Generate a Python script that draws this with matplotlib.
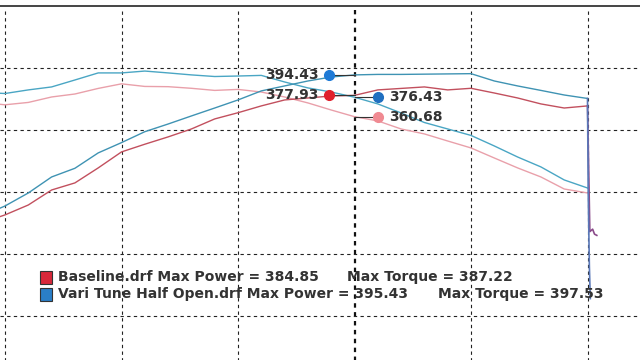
import matplotlib
matplotlib.use("Agg")
import matplotlib.pyplot as plt
from matplotlib.patches import Rectangle

# rpm grid shared by the four curves (one leading point off the left edge)
rpm = [2478, 2500, 2600, 2700, 2800, 2900, 3000, 3100, 3200, 3300, 3400, 3500, 3600, 3700,
       3800, 3900, 4000, 4100, 4200, 4300, 4400, 4500, 4600, 4700, 4800, 4900, 5000]

vt_tq = [379.6, 379.4, 382.3, 384.7, 390.3, 396.0, 396.0, 397.5, 396.0, 394.4, 393.1, 393.5, 394.0, 388.7,
         383.9, 380.6, 376.4, 371.0, 363.7, 356.0, 350.8, 345.6, 337.1, 328.2, 320.2, 309.7, 303.2]
vt_hp = [286.9, 288.7, 299.2, 312.1, 319.1, 331.5, 339.8, 348.6, 354.8, 361.3, 367.7, 374.2, 381.5, 385.5,
         389.5, 392.7, 394.4, 394.8, 394.8, 395.0, 395.2, 395.4, 389.5, 385.5, 381.9, 378.2, 375.4]
bl_tq = [370.7, 370.3, 372.2, 376.6, 379.0, 383.5, 387.2, 385.1, 384.9, 383.6, 381.9, 382.7, 380.6, 376.6,
         371.8, 366.1, 360.7, 357.3, 350.8, 346.8, 341.1, 335.5, 327.4, 319.4, 312.1, 302.4, 299.2]
bl_hp = [280.1, 281.5, 289.5, 301.6, 307.3, 319.4, 332.3, 338.5, 344.4, 350.8, 358.9, 363.9, 369.4, 374.2,
         375.8, 377.4, 377.9, 382.3, 383.5, 384.7, 382.3, 383.6, 379.8, 375.8, 371.0, 367.7, 369.4]

# end of run: the traces fall away at 5000 rpm
vt_tail_rpm = [5003, 5008, 5012]
vt_tail = [300, 240, 214]
bl_tail_rpm = [5004, 5010, 5022, 5030, 5040]
bl_tail = [330, 268, 270, 266, 265]

cursor_rpm = 4000
cursor_vals = {"vt_hp": 394.43, "bl_hp": 377.93, "vt_tq": 376.43, "bl_tq": 360.68}

legend_lines = [
    ("Baseline.drf Max Power = 384.85", "Max Torque = 387.22"),
    ("Vari Tune Half Open.drf Max Power = 395.43", "Max Torque = 397.53"),
]

c_vt_hp = "#3f93b3"
c_vt_tq = "#4aa6c4"
c_bl_hp = "#c2505e"
c_bl_tq = "#e9a0aa"

fig = plt.figure(figsize=(6.4, 3.6), dpi=100)
ax = fig.add_axes([0, 0, 1, 1])
ax.set_xlim(2478.5, 5225.3)
ax.set_ylim(164.5, 454.8)
ax.axis("off")

# grid
for x in [2500, 3000, 3500, 4500, 5000]:
    ax.plot([x, x], [150, 447], color="#222222", lw=0.8, dashes=(3, 3), zorder=1)
ax.plot([cursor_rpm, cursor_rpm], [150, 447], color="#111111", lw=1.6, dashes=(2, 2), zorder=1)
for y in [200, 250, 300, 350, 400]:
    ax.axhline(y, color="#222222", lw=0.8, dashes=(3, 3), zorder=1)
ax.axhline(450, color="#444444", lw=1.4, zorder=1)

# curves
ax.plot(rpm, bl_tq, color=c_bl_tq, lw=1.0, zorder=3)
ax.plot(rpm, bl_hp, color=c_bl_hp, lw=1.0, zorder=3)
ax.plot([rpm[-1]] + bl_tail_rpm, [bl_hp[-1]] + bl_tail, color="#8a4a8a", lw=1.2, zorder=3)
ax.plot(rpm, vt_tq, color=c_vt_tq, lw=1.0, zorder=3)
ax.plot(rpm, vt_hp, color=c_vt_hp, lw=1.0, zorder=3)
ax.plot([rpm[-1]] + vt_tail_rpm, [vt_hp[-1]] + vt_tail, color="#5a78b8", lw=1.2, zorder=3)

# cursor readouts
left_x = cursor_rpm - 110
right_x = cursor_rpm + 100
marks = [("vt_hp", left_x, "#1e7ad6", "right"), ("bl_hp", left_x, "#e0202c", "right"),
         ("vt_tq", right_x, "#1f6fc0", "left"), ("bl_tq", right_x, "#f08a92", "left")]
for key, mx, col, ha in marks:
    v = cursor_vals[key]
    ax.plot([mx, cursor_rpm], [v, v], color="#333333", lw=0.8, zorder=4)
    ax.plot(mx, v, "o", color=col, ms=7, zorder=5)
    tx = mx - 45 if ha == "right" else mx + 50
    ax.text(tx, v, f"{v:.2f}", ha=ha, va="center", fontsize=10, fontweight="bold",
            color="#333333", zorder=6)

# legend
box_cols = ["#d8283a", "#2a7fc8"]
for i, (a, b) in enumerate(legend_lines):
    ty = 1 - (277 + 17 * i) / 360
    ax.add_patch(Rectangle((40 / 640, ty - 6.5 / 360), 12 / 640, 13 / 360, transform=ax.transAxes,
                           facecolor=box_cols[i], edgecolor="#333333", lw=0.8, zorder=6))
    ax.text(58 / 640, ty, a, transform=ax.transAxes, ha="left", va="center", fontsize=10,
            fontweight="bold", color="#333333", zorder=6)
    bx = [347, 438][i]
    ax.text(bx / 640, ty, b, transform=ax.transAxes, ha="left", va="center", fontsize=10,
            fontweight="bold", color="#333333", zorder=6)

fig.savefig("out.png", dpi=100)
